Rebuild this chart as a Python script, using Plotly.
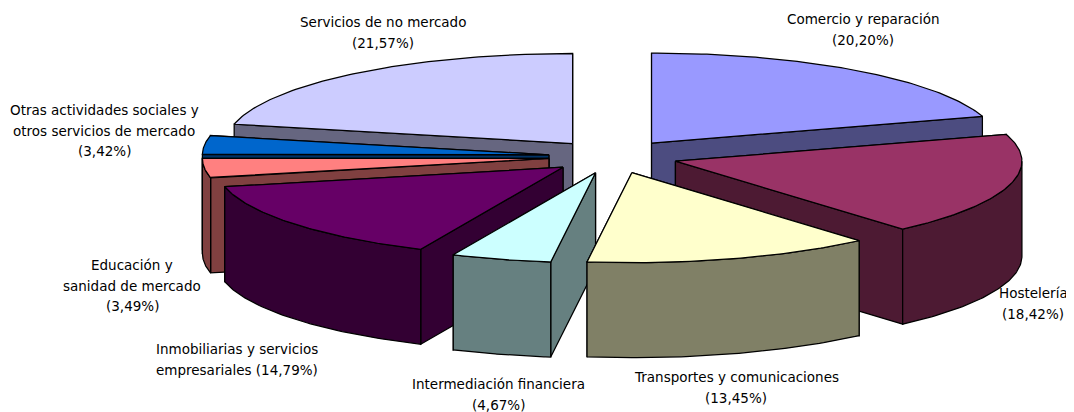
#!/usr/bin/env python3
# -*- coding: utf-8 -*-
"""Exploded 3D-style pie, drawn as filled polygons projected from the shares."""

import numpy as np
import plotly.graph_objects as go

# slices, clockwise from 12 o'clock
label_lines = [
    ["Comercio y reparación"],
    ["Hostelería"],
    ["Transportes y comunicaciones"],
    ["Intermediación financiera"],
    ["Inmobiliarias y servicios", "empresariales"],
    ["Educación y", "sanidad de mercado"],
    ["Otras actividades sociales y", "otros servicios de mercado"],
    ["Servicios de no mercado"],
]
shares = [20.20, 18.42, 13.45, 4.67, 14.79, 3.49, 3.42, 21.57]
top_colors = ["#9999FF", "#993366", "#FFFFCC", "#CCFFFF", "#660066", "#FF8080", "#0066CC", "#CCCCFF"]
side_colors = ["#4C4C80", "#4D1A33", "#808066", "#668080", "#330033", "#804040", "#003366", "#666680"]

# label centre x and first-line y, in pixels
label_x = [863, 1033, 736, 498, 237, 132, 104, 383]
label_y = [19, 293, 377, 384, 349, 265, 110, 22]
# the last line of these labels stays on the same row as the percentage
inline_pct = [False, False, False, False, True, False, False, False]

# projection of the pie, in pixels
CX, CY = 613.2, 156.6
RX, RY = 346.5, 90.0
DEPTH = 95.0
EXPLODE = 0.1867
LINE_HEIGHT = 20.5

# the page body has an 8px margin, so the plot area starts there
PAGE_MARGIN = 8
WIDTH, HEIGHT = 1074, 412

# back slices first
draw_order = [7, 6, 0, 5, 1, 4, 3, 2]


def rim(t, ox, oy):
    return ox + RX * np.sin(t), oy - RY * np.cos(t)


def add_poly(fig, x, y, color, name):
    fig.add_trace(go.Scatter(
        x=x, y=y, mode="lines", fill="toself", fillcolor=color,
        line=dict(color="black", width=1.25), name=name,
        hoverinfo="name", showlegend=False,
    ))


fig = go.Figure()

total = sum(shares)
edges = 2 * np.pi * np.cumsum([0] + shares) / total

for i in draw_order:
    t0, t1 = edges[i], edges[i + 1]
    mid = (t0 + t1) / 2
    ox = CX + EXPLODE * RX * np.sin(mid)
    oy = CY - EXPLODE * RY * np.cos(mid)
    name = " ".join(label_lines[i])

    # radial walls, the one further back first
    walls = []
    for t in (t0, t1):
        ex, ey = rim(t, ox, oy)
        walls.append((ey, [ox, ex, ex, ox, ox], [oy, ey, ey + DEPTH, oy + DEPTH, oy]))
    for _, wx, wy in sorted(walls, key=lambda w: w[0]):
        add_poly(fig, wx, wy, side_colors[i], name)

    # outer wall, only where it faces the viewer
    a, b = max(t0, np.pi / 2), min(t1, 3 * np.pi / 2)
    if a < b:
        ts = np.linspace(a, b, 60)
        ex, ey = rim(ts, ox, oy)
        add_poly(fig, np.r_[ex, ex[::-1], ex[0]], np.r_[ey, ey[::-1] + DEPTH, ey[0]],
                 side_colors[i], name)

    # top face
    ts = np.linspace(t0, t1, 80)
    ex, ey = rim(ts, ox, oy)
    add_poly(fig, np.r_[ox, ex, ox], np.r_[oy, ey, oy], top_colors[i], name)

# labels, one annotation per line to keep the wide line spacing
for i, lines in enumerate(label_lines):
    pct = f"({shares[i]:.2f}%)".replace(".", ",")
    rows = lines[:-1] + [lines[-1] + " " + pct] if inline_pct[i] else lines + [pct]
    for n, row in enumerate(rows):
        fig.add_annotation(
            x=label_x[i], y=label_y[i] + n * LINE_HEIGHT, text=row,
            showarrow=False, xanchor="center", yanchor="middle",
            font=dict(family="DejaVu Sans", size=13.5, color="black"),
        )

fig.update_layout(
    width=WIDTH - PAGE_MARGIN, height=HEIGHT - PAGE_MARGIN,
    margin=dict(l=0, r=0, t=0, b=0),
    paper_bgcolor="white", plot_bgcolor="white",
    xaxis=dict(range=[PAGE_MARGIN, WIDTH], visible=False, fixedrange=True),
    yaxis=dict(range=[HEIGHT, PAGE_MARGIN], visible=False, fixedrange=True),
    showlegend=False,
)

fig.write_html("out.html")
